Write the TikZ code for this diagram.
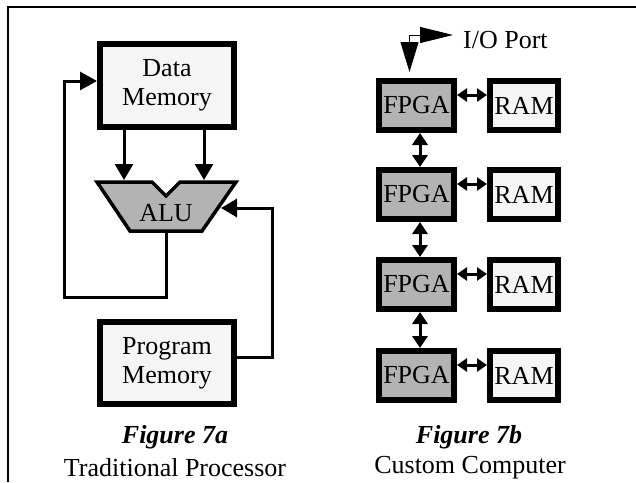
\documentclass[tikz,border=0pt]{standalone}
\usepackage{fontspec}
\setmainfont{Liberation Serif}
\usetikzlibrary{arrows.meta}
\definecolor{boxlight}{HTML}{F5F5F5}
\definecolor{chipgray}{HTML}{B3B3B3}
\begin{document}
\begin{tikzpicture}[x=1pt,y=-1pt,
  font=\fontsize{26}{29}\selectfont,
  membox/.style={draw, line width=6pt, fill=boxlight, inner sep=0pt, align=center},
  chipbox/.style={draw, line width=6pt, fill=chipgray, inner sep=0pt},
  bigarrow/.style={line width=3pt, -{Triangle[length=16pt,width=18pt]}},
  linkh/.style={line width=3pt, {Triangle[length=10pt,width=13pt]}-{Triangle[length=10pt,width=13pt]}},
  linkv/.style={line width=3pt, {Triangle[length=12pt,width=15pt]}-{Triangle[length=12pt,width=15pt]}},
  caption/.style={inner sep=0pt}]
\useasboundingbox (0,0) rectangle (636,482);

% open frame: left and top edges only
\draw[line width=2pt] (8,482) -- (8,7) -- (636,7);

% ---------- traditional processor ----------
\node[membox, minimum width=134pt, minimum height=83pt] (dm) at (167,85.5) {Data\\Memory};
\node[membox, minimum width=134pt, minimum height=82pt] (pm) at (167,363) {Program\\Memory};

% ALU outline (trapezoid with a notch on top)
\draw[line width=3.5pt, fill=chipgray, line join=miter]
  (97,182) -- (152,182) -- (166,196) -- (180,182) -- (236,182)
  -- (202,231) -- (130,231) -- cycle;
\node[inner sep=0pt] (alu) at (166,213) {ALU};

\coordinate (aluInL) at (124,180);
\coordinate (aluInR) at (204,180);
\coordinate (aluOut) at (166,231);
\coordinate (aluSide) at (221,208);

\draw[bigarrow] (dm.south -| aluInL) -- (aluInL);
\draw[bigarrow] (dm.south -| aluInR) -- (aluInR);

% result fed back to the data memory
\draw[line width=3pt, -{Triangle[length=17pt,width=18pt]}]
  (aluOut) -- (166,297) -- (64,297) -- (64,81) -- ([yshift=4.5pt]dm.west);

% instructions from the program memory
\draw[line width=3pt, -{Triangle[length=16pt,width=18pt]}]
  ([yshift=6pt]pm.east) -- (272,357) -- (272,208) -- (aluSide);

\node[caption] (capa) at (175,437) {\textbf{\textit{Figure 7a}}};
\node[caption] (capa2) at (175,468) {Traditional Processor};

% ---------- custom computer ----------
\foreach \i/\y in {1/105.5, 2/194.5, 3/284.5, 4/375.5} {
  \node[chipbox, minimum width=75pt, minimum height=49pt] (f\i) at (416.5,\y) {FPGA};
  \node[membox, minimum width=68pt, minimum height=49pt] (r\i) at (524,\y) {RAM};
  \draw[linkh] ([yshift=10.5pt]f\i.east) -- ([yshift=10.5pt]r\i.west);
}
\foreach \a/\b in {1/2, 2/3, 3/4}
  \draw[linkv] ([xshift=3.5pt]f\a.south) -- ([xshift=3.5pt]f\b.north);

% I/O port
\coordinate (ioOut) at (453,35);
\coordinate (ioIn) at (409.5,72);
\draw[line width=1pt, {Triangle[length=33pt,width=16pt]}-{Triangle[length=30pt,width=18pt]}]
  (ioOut) -- (409.5,35) -- (ioIn);
\node[inner sep=0pt, anchor=west] (io) at (463,40) {I/O Port};

\node[caption] (capb) at (469,437) {\textbf{\textit{Figure 7b}}};
\node[caption] (capb2) at (470,468) {Custom Computer};
\end{tikzpicture}
\end{document}
